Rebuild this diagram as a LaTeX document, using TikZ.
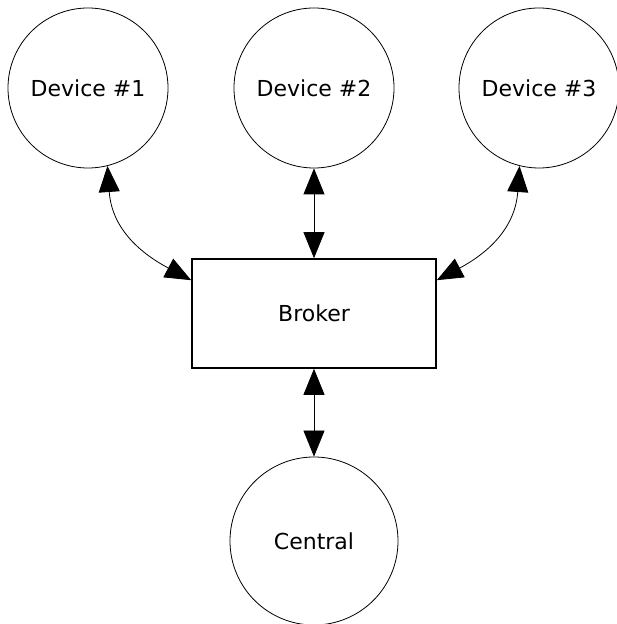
\documentclass[tikz,border=0pt]{standalone}
\usepackage{fontspec}
\setmainfont{DejaVu Sans}
\usetikzlibrary{arrows.meta}
\begin{document}
\begin{tikzpicture}[x=1pt,y=1pt,
    device/.style={circle, draw, line width=0.8pt, minimum size=160pt, inner sep=0pt,
                   font=\fontsize{22}{26}\selectfont},
    hub/.style={rectangle, draw, line width=1.6pt, minimum width=244pt, minimum height=109pt,
                inner sep=0pt, font=\fontsize{22}{26}\selectfont},
    link/.style={line width=0.8pt,
                 {Triangle[length=26pt,width=21pt]}-{Triangle[length=26pt,width=21pt]}}]
  \useasboundingbox (0,0) rectangle (617,624);
  % devices along the top
  \node[device] (d1) at (88,536) {Device \#1};
  \node[device] (d2) at (314,536) {Device \#2};
  \node[device] (d3) at (539,536) {Device \#3};
  % broker in the middle
  \node[hub] (br) at (314,310.5) {Broker};
  % central server below
  \node[device, minimum size=168pt] (ce) at (314,83) {Central};
  % connections
  \draw[link] (d1.-76) to[out=-86, in=152, looseness=1.1] ([yshift=-22pt]br.north west);
  \draw[link] (d2.south) -- (br.north);
  \draw[link] (d3.-104) to[out=-94, in=28, looseness=1.1] ([yshift=-22pt]br.north east);
  \draw[link] (br.south) -- (ce.north);
\end{tikzpicture}
\end{document}
